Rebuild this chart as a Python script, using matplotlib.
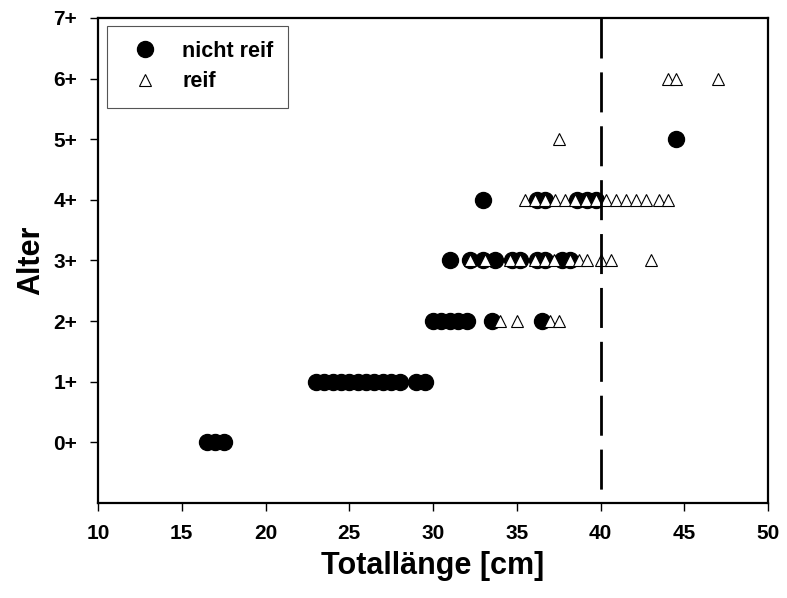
import matplotlib.pyplot as plt
import numpy as np

plt.rcParams['font.family'] = ['Liberation Sans', 'DejaVu Sans']
plt.rcParams['font.weight'] = 'bold'

# nicht reif (immature) - total length [cm] per age class
unreif_0 = [16.5, 17.0, 17.5]
unreif_1 = [23.0, 23.5, 24.0, 24.5, 25.0, 25.5, 26.0, 26.5, 27.0, 27.5, 28.0, 29.0, 29.5]
unreif_2 = [30.0, 30.5, 31.0, 31.5, 32.0, 33.5, 36.5]
unreif_3 = [31.0, 32.2, 33.0, 33.7, 34.7, 35.2, 36.2, 36.7, 37.7, 38.2]
unreif_4 = [33.0, 36.2, 36.7, 38.6, 39.2, 39.7]
unreif_5 = [44.5]

# reif (mature)
reif_2 = [34.0, 35.0, 37.0, 37.5]
reif_3 = [32.2, 33.1, 34.6, 35.2, 36.1, 36.7, 37.2, 38.2, 38.7, 39.2, 40.0, 40.6, 43.0]
reif_4 = [35.5, 36.1, 36.7, 37.3, 37.9, 38.5, 39.1, 39.7, 40.3, 40.9, 41.5, 42.1, 42.7,
          43.5, 44.0]
reif_5 = [37.5]
reif_6 = [44.0, 44.5, 47.0]

unreif = {0: unreif_0, 1: unreif_1, 2: unreif_2, 3: unreif_3, 4: unreif_4, 5: unreif_5}
reif = {2: reif_2, 3: reif_3, 4: reif_4, 5: reif_5, 6: reif_6}

age_labels = ["0+", "1+", "2+", "3+", "4+", "5+", "6+", "7+"]
x_ticks = [10, 15, 20, 25, 30, 35, 40, 45, 50]
grenze = 40

fig = plt.figure(figsize=(7.87, 5.98), dpi=100)
ax = fig.add_axes([0.1245, 0.159, 0.8515, 0.811])

ux = np.concatenate([v for v in unreif.values()])
uy = np.concatenate([[k] * len(v) for k, v in unreif.items()])
rx = np.concatenate([v for v in reif.values()])
ry = np.concatenate([[k] * len(v) for k, v in reif.items()])

ax.plot(ux, uy, 'o', color='black', markersize=11.5, linestyle='none',
        label='nicht reif')
ax.plot(rx, ry, '^', markerfacecolor='white', markeredgecolor='black',
        markeredgewidth=0.8, markersize=8.5, linestyle='none', label='reif')

# 40 cm line, drawn top-down so the dash pattern starts at the top
ax.plot([grenze, grenze], [7, -1], color='black', linewidth=2, dashes=(14.4, 5))

ax.set_xlim(10, 50)
ax.set_ylim(-1, 7)
ax.set_xticks(x_ticks)
ax.set_yticks(range(len(age_labels)))
ax.set_yticklabels(age_labels)
ax.tick_params(axis='both', direction='out', length=6, width=1, labelsize=15, pad=9)
for s in ax.spines.values():
    s.set_linewidth(1.6)

ax.set_xlabel('Totallänge [cm]', fontsize=22, fontweight='bold', labelpad=6)
ax.set_ylabel('Alter', fontsize=22, fontweight='bold', labelpad=5)

leg = ax.legend(loc='upper left', bbox_to_anchor=(0.013, 0.984), fancybox=False,
                edgecolor='#555555', framealpha=1, handletextpad=0.6,
                borderpad=0.7, labelspacing=0.45, borderaxespad=0, handlelength=2.2,
                prop={'weight': 'bold', 'size': 15.5})
leg.get_frame().set_linewidth(0.8)

fig.savefig('out.png', dpi=100)
